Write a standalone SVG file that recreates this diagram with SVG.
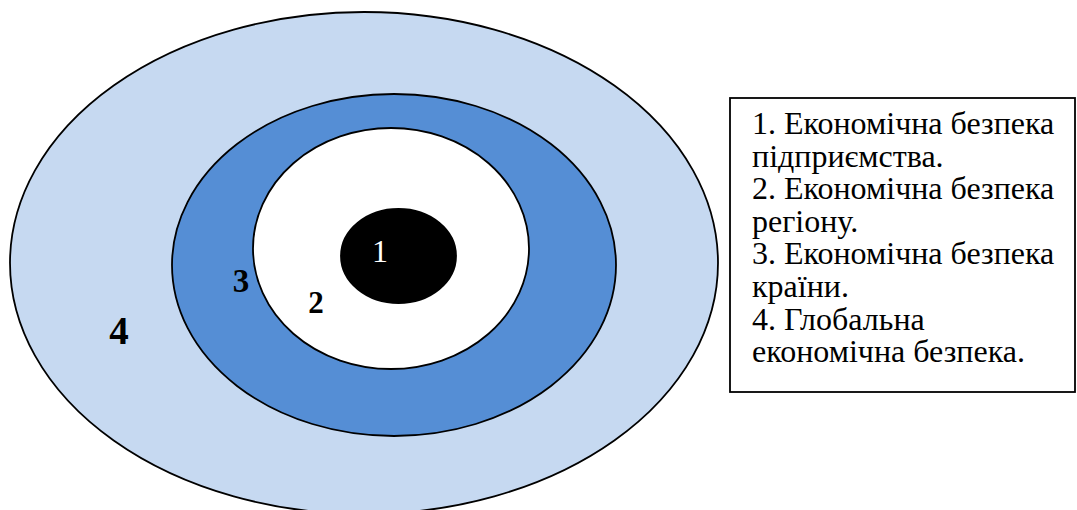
<svg xmlns="http://www.w3.org/2000/svg" width="1077" height="510" viewBox="0 0 1077 510">
<style>
.ring{stroke:#000;stroke-width:1.8}
text{font-family:'Liberation Serif','DejaVu Serif',serif;fill:#000}
.b{font-weight:bold}
.leg{font-size:32px}
</style>
<rect width="1077" height="510" fill="#fff"/>
<g id="ring4"><ellipse class="ring" cx="364" cy="263" rx="354" ry="251" fill="#C6D9F1"/></g>
<g id="ring3"><ellipse class="ring" cx="394" cy="265" rx="222" ry="171" fill="#558ED5"/></g>
<g id="ring2"><ellipse class="ring" cx="391" cy="248.5" rx="138" ry="120.5" fill="#fff"/></g>
<g id="ring1"><ellipse class="ring" cx="398.5" cy="256" rx="57.5" ry="47" fill="#000"/>
<text x="380" y="262" font-size="32" style="fill:#fff" text-anchor="middle">1</text></g>
<g id="labels">
<text class="b" x="241" y="292" font-size="33" text-anchor="middle">3</text>
<text class="b" x="316" y="313" font-size="31" text-anchor="middle">2</text>
<text class="b" x="119" y="344" font-size="39" text-anchor="middle">4</text>
</g>
<g id="legend">
<rect x="730" y="98" width="345" height="294" fill="#fff" stroke="#000" stroke-width="1.8"/>
<text class="leg" x="752" y="134">1. Економічна безпека</text>
<text class="leg" x="752" y="166.6">підприємства.</text>
<text class="leg" x="752" y="199.2">2. Економічна безпека</text>
<text class="leg" x="752" y="231.8">регіону.</text>
<text class="leg" x="752" y="264.4">3. Економічна безпека</text>
<text class="leg" x="752" y="297">країни.</text>
<text class="leg" x="752" y="329.6">4. Глобальна</text>
<text class="leg" x="752" y="362.2">економічна безпека.</text>
</g>
</svg>
